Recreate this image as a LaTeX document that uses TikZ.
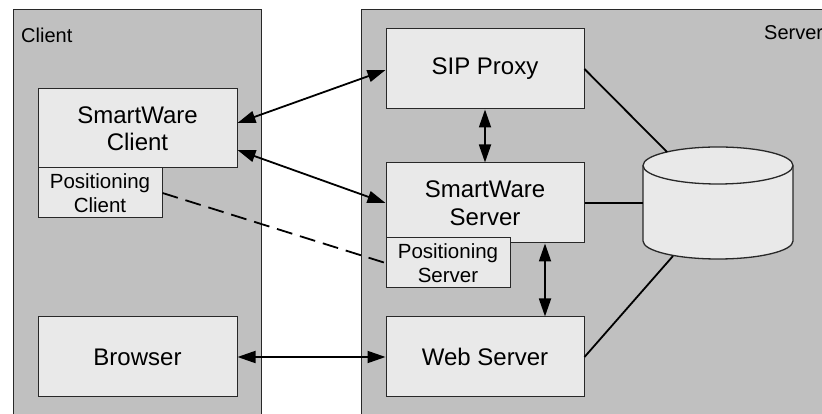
\documentclass[tikz,border=0pt]{standalone}
\usepackage{fontspec}
\setmainfont{Liberation Sans}
\usetikzlibrary{arrows.meta}
\definecolor{panelgray}{RGB}{192,192,192}
\definecolor{boxgray}{RGB}{233,233,233}
\definecolor{edgegray}{RGB}{40,40,40}
\begin{document}
\begin{tikzpicture}[x=1pt,y=1pt,
  panel/.style={draw=edgegray,fill=panelgray,line width=0.9pt},
  bigbox/.style={draw=edgegray,fill=boxgray,line width=1pt,inner sep=0pt,align=center,
    font=\fontsize{24}{27.5}\selectfont},
  smallbox/.style={draw=edgegray,fill=boxgray,line width=1pt,inner sep=0pt,align=center,
    font=\fontsize{20.5}{24}\selectfont},
  paneltext/.style={inner sep=0pt,anchor=base west,font=\fontsize{20}{24}\selectfont},
  arr/.style={{Triangle[length=18pt,width=12pt]}-{Triangle[length=18pt,width=12pt]},line width=1.8pt},
  plain/.style={line width=1.8pt},
  dashline/.style={line width=1.8pt,dash pattern=on 16pt off 8pt}]
\useasboundingbox (0,0) rectangle (822,414);
\clip (0,0) rectangle (822,414);
\fill[white] (0,0) rectangle (822,414);
% panels
\draw[panel] (13,-10) rectangle (261,405);
\draw[panel] (361,-10) rectangle (840,405);
\node[paneltext] (clientlbl) at (21,371) {Client};
\node[paneltext] (serverlbl) at (764,374) {Server};
% client boxes
\node[bigbox,minimum width=199pt,minimum height=79pt] (swc) at (137.5,285.5) {SmartWare\\Client};
\node[smallbox,minimum width=124pt,minimum height=50pt] (poscl) at (100,221) {Positioning\\Client};
\node[bigbox,minimum width=199pt,minimum height=80pt] (br) at (137.5,57) {Browser};
% server boxes
\node[bigbox,minimum width=198pt,minimum height=80pt] (sip) at (485,345) {SIP Proxy};
\node[bigbox,minimum width=198pt,minimum height=80pt] (sws) at (485,211) {SmartWare\\Server};
\node[smallbox,minimum width=124pt,minimum height=50pt] (poss) at (448,151) {Positioning\\Server};
\node[bigbox,minimum width=198pt,minimum height=80pt] (web) at (485,57) {Web Server};
% database cylinder
\draw[draw=edgegray,fill=boxgray,line width=1.3pt]
  (643,248.5) -- (643,173) arc[start angle=180,end angle=360,x radius=75,y radius=18]
  -- (793,248.5) arc[start angle=0,end angle=180,x radius=75,y radius=18.5] -- cycle;
\draw[draw=edgegray,line width=1.3pt]
  (643,248.5) arc[start angle=180,end angle=360,x radius=75,y radius=18.5];
\coordinate (dbtop) at (667,262);
\coordinate (dbleft) at (643,211);
\coordinate (dbbot) at (673,158);
% connectors
\draw[arr] ([yshift=5.5pt]swc.east) -- ([yshift=-1pt]sip.west);
\draw[arr] ([yshift=-21.5pt]swc.east) -- (sws.west);
\draw[arr] (sip.south) -- (sws.north);
\draw[arr] ([xshift=60pt]sws.south) -- ([xshift=60pt]web.north);
\draw[arr] (br.east) -- (web.west);
\draw[dashline] (poscl.east) -- (poss.west);
\draw[plain] (sip.east) -- (dbtop);
\draw[plain] (sws.east) -- (dbleft);
\draw[plain] (web.east) -- (dbbot);
\end{tikzpicture}
\end{document}
